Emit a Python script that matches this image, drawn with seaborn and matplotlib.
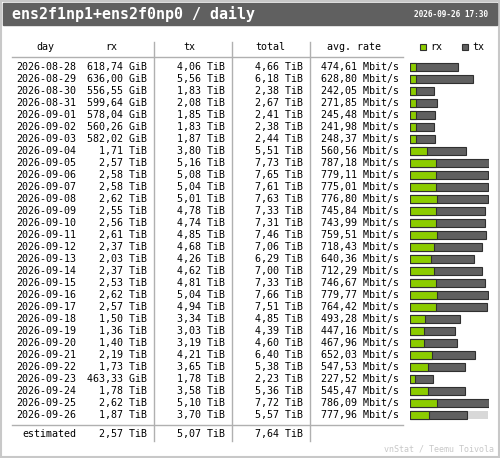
import matplotlib
matplotlib.use("Agg")
import matplotlib.pyplot as plt
import seaborn as sns
import pandas as pd
from matplotlib.patches import Rectangle

days = ["2026-08-28", "2026-08-29", "2026-08-30", "2026-08-31", "2026-09-01", "2026-09-02",
        "2026-09-03", "2026-09-04", "2026-09-05", "2026-09-06", "2026-09-07", "2026-09-08",
        "2026-09-09", "2026-09-10", "2026-09-11", "2026-09-12", "2026-09-13", "2026-09-14",
        "2026-09-15", "2026-09-16", "2026-09-17", "2026-09-18", "2026-09-19", "2026-09-20",
        "2026-09-21", "2026-09-22", "2026-09-23", "2026-09-24", "2026-09-25", "2026-09-26"]
rx_txt = ["618,74 GiB", "636,00 GiB", "556,55 GiB", "599,64 GiB", "578,04 GiB", "560,26 GiB",
          "582,02 GiB", "1,71 TiB", "2,57 TiB", "2,58 TiB", "2,58 TiB", "2,62 TiB",
          "2,55 TiB", "2,56 TiB", "2,61 TiB", "2,37 TiB", "2,03 TiB", "2,37 TiB",
          "2,53 TiB", "2,62 TiB", "2,57 TiB", "1,50 TiB", "1,36 TiB", "1,40 TiB",
          "2,19 TiB", "1,73 TiB", "463,33 GiB", "1,78 TiB", "2,62 TiB", "1,87 TiB"]
tx_txt = ["4,06 TiB", "5,56 TiB", "1,83 TiB", "2,08 TiB", "1,85 TiB", "1,83 TiB",
          "1,87 TiB", "3,80 TiB", "5,16 TiB", "5,08 TiB", "5,04 TiB", "5,01 TiB",
          "4,78 TiB", "4,74 TiB", "4,85 TiB", "4,68 TiB", "4,26 TiB", "4,62 TiB",
          "4,81 TiB", "5,04 TiB", "4,94 TiB", "3,34 TiB", "3,03 TiB", "3,19 TiB",
          "4,21 TiB", "3,65 TiB", "1,78 TiB", "3,58 TiB", "5,10 TiB", "3,70 TiB"]
total_txt = ["4,66 TiB", "6,18 TiB", "2,38 TiB", "2,67 TiB", "2,41 TiB", "2,38 TiB",
             "2,44 TiB", "5,51 TiB", "7,73 TiB", "7,65 TiB", "7,61 TiB", "7,63 TiB",
             "7,33 TiB", "7,31 TiB", "7,46 TiB", "7,06 TiB", "6,29 TiB", "7,00 TiB",
             "7,33 TiB", "7,66 TiB", "7,51 TiB", "4,85 TiB", "4,39 TiB", "4,60 TiB",
             "6,40 TiB", "5,38 TiB", "2,23 TiB", "5,36 TiB", "7,72 TiB", "5,57 TiB"]
rate_txt = ["474,61", "628,80", "242,05", "271,85", "245,48", "241,98", "248,37", "560,56",
            "787,18", "779,11", "775,01", "776,80", "745,84", "743,99", "759,51", "718,43",
            "640,36", "712,29", "746,67", "779,77", "764,42", "493,28", "447,16", "467,96",
            "652,03", "547,53", "227,52", "545,47", "786,09", "777,96"]
est = ["estimated", "2,57 TiB", "5,07 TiB", "7,64 TiB"]


def to_tib(s):
    v, u = s.split()
    v = float(v.replace(",", "."))
    return v / 1024 if u == "GiB" else v


df = pd.DataFrame({"day": days,
                   "rx": [to_tib(s) for s in rx_txt],
                   "total": [to_tib(s) for s in total_txt]})
est_total = to_tib(est[3])

W, H = 500, 458
fig = plt.figure(figsize=(W / 100, H / 100), dpi=100)
ax = fig.add_axes([0, 0, 1, 1])
ax.set_xlim(0, W)
ax.set_ylim(H, 0)
ax.axis("off")

mono = "DejaVu Sans Mono"
fs = 7.2
grey = "#606060"
line = "#b0b0b0"

ax.add_patch(Rectangle((1, 1), W - 2, H - 2, fill=False, ec="#c8c8c8", lw=1.5))
ax.add_patch(Rectangle((3, 3), W - 6, 22, color=grey))
ax.text(12, 14.5, "ens2f1np1+ens2f0np0 / daily", color="white", fontsize=10.8,
        family=mono, weight="bold", va="center")
ax.text(488, 14.5, "2026-09-26 17:30", color="white", fontsize=5.6, family=mono,
        weight="bold", va="center", ha="right")

hy = 47
ax.text(45, hy, "day", family=mono, fontsize=fs, ha="center", va="center")
ax.text(111, hy, "rx", family=mono, fontsize=fs, ha="center", va="center")
ax.text(189, hy, "tx", family=mono, fontsize=fs, ha="center", va="center")
ax.text(270, hy, "total", family=mono, fontsize=fs, ha="center", va="center")
ax.text(354, hy, "avg. rate", family=mono, fontsize=fs, ha="center", va="center")
ax.add_patch(Rectangle((420, 44), 6, 6, fc="#8ccc00", ec="#303030", lw=0.8))
ax.text(430, hy, "rx", family=mono, fontsize=fs, va="center")
ax.add_patch(Rectangle((462, 44), 6, 6, fc=grey, ec="#303030", lw=0.8))
ax.text(472, hy, "tx", family=mono, fontsize=fs, va="center")

ax.plot([12, 403], [57, 57], color=line, lw=1)
ax.plot([12, 403], [425, 425], color=line, lw=1)
for x in (154, 232, 310):
    ax.plot([x, x], [42, 441], color=line, lw=1)

y0, dy = 67, 12
for i in range(len(days)):
    y = y0 + dy * i
    ax.text(16, y, days[i], family=mono, fontsize=fs, va="center")
    ax.text(147, y, rx_txt[i], family=mono, fontsize=fs, va="center", ha="right")
    ax.text(225, y, tx_txt[i], family=mono, fontsize=fs, va="center", ha="right")
    ax.text(303, y, total_txt[i], family=mono, fontsize=fs, va="center", ha="right")
    ax.text(399, y, rate_txt[i] + " Mbit/s", family=mono, fontsize=fs, va="center", ha="right")

ey = 434
ax.text(16 + 6, ey, est[0], family=mono, fontsize=fs, va="center")
ax.text(147, ey, est[1], family=mono, fontsize=fs, va="center", ha="right")
ax.text(225, ey, est[2], family=mono, fontsize=fs, va="center", ha="right")
ax.text(303, ey, est[3], family=mono, fontsize=fs, va="center", ha="right")
ax.text(494, 449, "vnStat / Teemu Toivola", family=mono, fontsize=6, color="#c8c8c8",
        ha="right", va="center")

# bar panel, one row per day
bx0, bx1 = 410, 489
top = y0 - dy / 2
bot = y0 + dy * (len(days) - 0.5)
bax = fig.add_axes([bx0 / W, 1 - bot / H, (bx1 - bx0) / W, (bot - top) / H])
bax.axis("off")
scale = df["total"].max()
est_df = pd.DataFrame({"day": [days[-1]], "total": [est_total]})
sns.barplot(data=est_df, y="day", x="total", order=days, orient="h", color="#d8d8d8",
            width=0.7, ax=bax, saturation=1, linewidth=0)
sns.barplot(data=df, y="day", x="total", order=days, orient="h", color=grey, width=0.7,
            ax=bax, saturation=1, edgecolor="#303030", linewidth=0.8)
sns.barplot(data=df, y="day", x="rx", order=days, orient="h", color="#8ccc00", width=0.7,
            ax=bax, saturation=1, edgecolor="#303030", linewidth=0.8)
bax.set_xlim(0, scale)
bax.set_ylim(len(days) - 0.5, -0.5)

fig.savefig("out.png", dpi=100)
